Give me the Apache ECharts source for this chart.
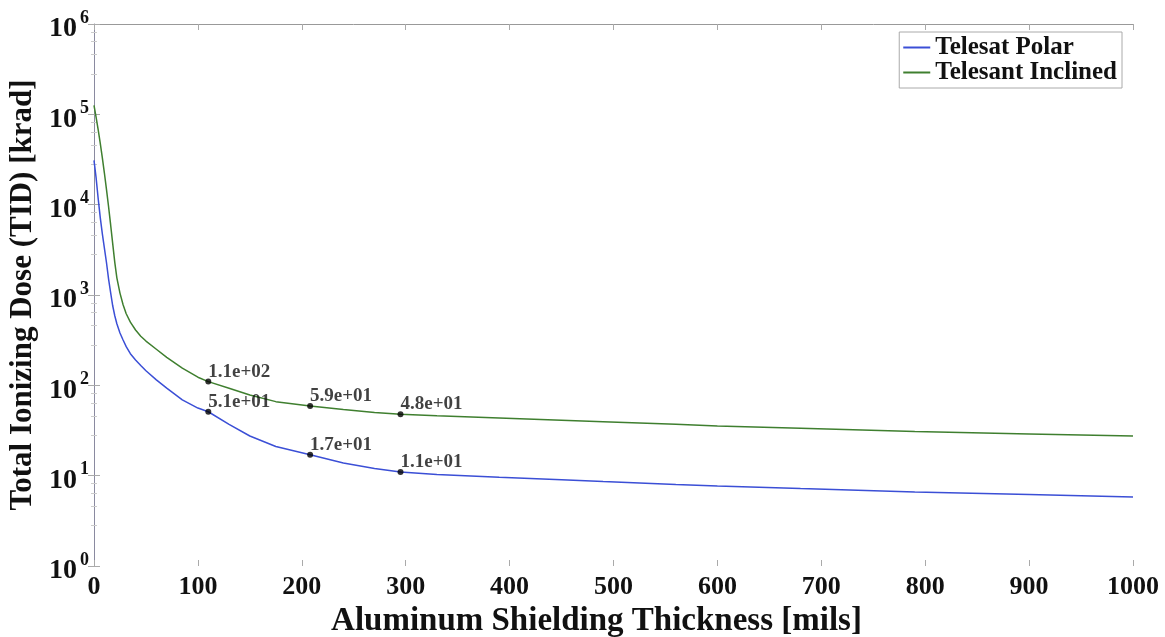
<!DOCTYPE html>
<html>
<head>
<meta charset="utf-8">
<script src="https://cdn.jsdelivr.net/npm/echarts@6/dist/echarts.min.js"></script>
<style>
  html, body { margin: 0; padding: 0; background: #fff; }
  #chart { width: 1165px; height: 637px; }
</style>
</head>
<body>
<div id="chart"></div>
<script>
// Shielding thickness samples [mils]
const thickness = [0, 2, 4, 6, 8, 10, 12, 14, 16, 18, 20, 22, 25, 28, 31, 35, 40, 45, 50, 60, 70, 85, 100, 110,
  130, 150, 175, 208, 240, 270, 295, 330, 390, 450, 490, 560, 600, 680, 790, 900, 1000];

// Total ionizing dose [krad]
const polarDose = [30900, 19950, 11750, 7240, 4790, 3310, 2290, 1510, 1060, 760, 589, 480, 380, 318, 268, 224, 191, 166, 145, 115, 93, 69, 56, 51,
  37, 27.5, 21, 17, 13.8, 12, 11, 10.3, 9.6, 9.0, 8.6, 8.0, 7.7, 7.2, 6.6, 6.2, 5.8];
const inclinedDose = [126000, 93300, 67600, 47900, 33100, 22400, 14800, 9550, 6000, 3700, 2300, 1550, 1050, 780, 620, 500, 410, 350, 309, 251, 204, 155, 123, 110,
  93, 78, 66, 59, 54, 50, 48, 46, 43.5, 41, 39.5, 37, 35.5, 33.5, 30.8, 29, 27.4];

// Thicknesses that get a dose callout
const calloutThickness = [110, 208, 295];

const seriesNames = ['Telesat Polar', 'Telesant Inclined'];
const xTicks = [0, 100, 200, 300, 400, 500, 600, 700, 800, 900, 1000];

const SERIF = '"Liberation Serif", "DejaVu Serif", serif';
const INK = '#111';

function pairs(xs, ys) { return xs.map((x, i) => [x, ys[i]]); }
function callouts(ys) {
  return calloutThickness.map(t => [t, ys[thickness.indexOf(t)]]);
}
function sci(v) {
  const e = Math.floor(Math.log10(v) + 1e-9);
  const m = v / Math.pow(10, e);
  return m.toFixed(1) + 'e+' + String(e).padStart(2, '0');
}

const calloutStyle = {
  type: 'scatter',
  symbol: 'circle',
  symbolSize: 6,
  itemStyle: { color: '#000' },
  z: 5,
  silent: true,
  label: {
    show: true,
    position: 'right',
    distance: -3,
    offset: [0, -10],
    align: 'left',
    fontFamily: SERIF,
    fontWeight: 'bold',
    fontSize: 19,
    color: INK,
    formatter: p => sci(p.value[1])
  }
};

const tickStyle = { inside: true, length: 6, lineStyle: { color: '#aaa', width: 1 } };
const minorStyle = { show: true, splitNumber: 5, length: 3, lineStyle: { color: '#ccc', width: 1 } };

const chart = echarts.init(document.getElementById('chart'), null, { renderer: 'canvas' });
chart.setOption({
  animation: false,
  backgroundColor: '#fff',
  grid: { left: 94, right: 32, top: 24, bottom: 71, outerBoundsMode: 'none', containLabel: false },
  legend: {
    data: seriesNames,
    orient: 'vertical',
    right: 43,
    top: 32,
    icon: 'rect',
    itemWidth: 27,
    itemHeight: 2,
    itemGap: 0,
    padding: [3, 5, 3, 4],
    borderColor: '#aaa',
    borderWidth: 1,
    backgroundColor: '#fff',
    textStyle: { fontFamily: SERIF, fontWeight: 'bold', fontSize: 25, lineHeight: 25, color: INK }
  },
  xAxis: [{
    type: 'value',
    min: 0, max: 1000, interval: 100,
    name: 'Aluminum Shielding Thickness [mils]',
    nameLocation: 'middle',
    nameGap: 37,
    nameTextStyle: { fontFamily: SERIF, fontWeight: 'bold', fontSize: 33, color: INK, padding: [0, 34, 0, 0] },
    axisLine: { show: false },
    axisTick: tickStyle,
    splitLine: { show: false },
    axisLabel: {
      margin: 8, fontFamily: SERIF, fontWeight: 'bold', fontSize: 26, color: INK,
      formatter: v => xTicks.includes(v) ? String(v) : ''
    }
  }, {
    type: 'value',
    position: 'top',
    min: 0, max: 1000, interval: 100,
    axisLine: { show: true, onZero: false, lineStyle: { color: '#999', width: 1 } },
    axisTick: tickStyle,
    axisLabel: { show: false },
    splitLine: { show: false }
  }],
  yAxis: [{
    type: 'log',
    logBase: 10,
    min: 1, max: 1e6,
    name: 'Total Ionizing Dose (TID) [krad]',
    nameLocation: 'middle',
    nameGap: 52,
    nameTextStyle: { fontFamily: SERIF, fontWeight: 'bold', fontSize: 31, color: INK },
    axisLine: { show: true, onZero: false, lineStyle: { color: '#8a8aa0', width: 1 } },
    axisTick: tickStyle,
    minorTick: minorStyle,
    splitLine: { show: false },
    axisLabel: {
      margin: 5,
      formatter: v => '{b|10}{s|' + Math.round(Math.log10(v)) + '}',
      rich: {
        b: { fontFamily: SERIF, fontWeight: 'bold', fontSize: 28, color: INK, padding: [10, 0, 0, 0] },
        s: { fontFamily: SERIF, fontWeight: 'bold', fontSize: 18, color: INK, padding: [0, 0, 12, 3] }
      }
    }
  }, {
    type: 'log',
    logBase: 10,
    min: 1, max: 1e6,
    position: 'right',
    axisLine: { show: false },
    axisTick: tickStyle,
    minorTick: minorStyle,
    axisLabel: { show: false },
    splitLine: { show: false }
  }],
  series: [{
    name: seriesNames[0],
    type: 'line',
    data: pairs(thickness, polarDose),
    showSymbol: false,
    lineStyle: { color: '#3b4fd6', width: 1.5 },
    itemStyle: { color: '#3b4fd6' },
    z: 3
  }, {
    name: seriesNames[1],
    type: 'line',
    data: pairs(thickness, inclinedDose),
    showSymbol: false,
    lineStyle: { color: '#3f7f2f', width: 1.5 },
    itemStyle: { color: '#3f7f2f' },
    z: 3
  }, Object.assign({ data: callouts(inclinedDose) }, calloutStyle),
     Object.assign({ data: callouts(polarDose) }, calloutStyle)]
});
</script>
</body>
</html>
